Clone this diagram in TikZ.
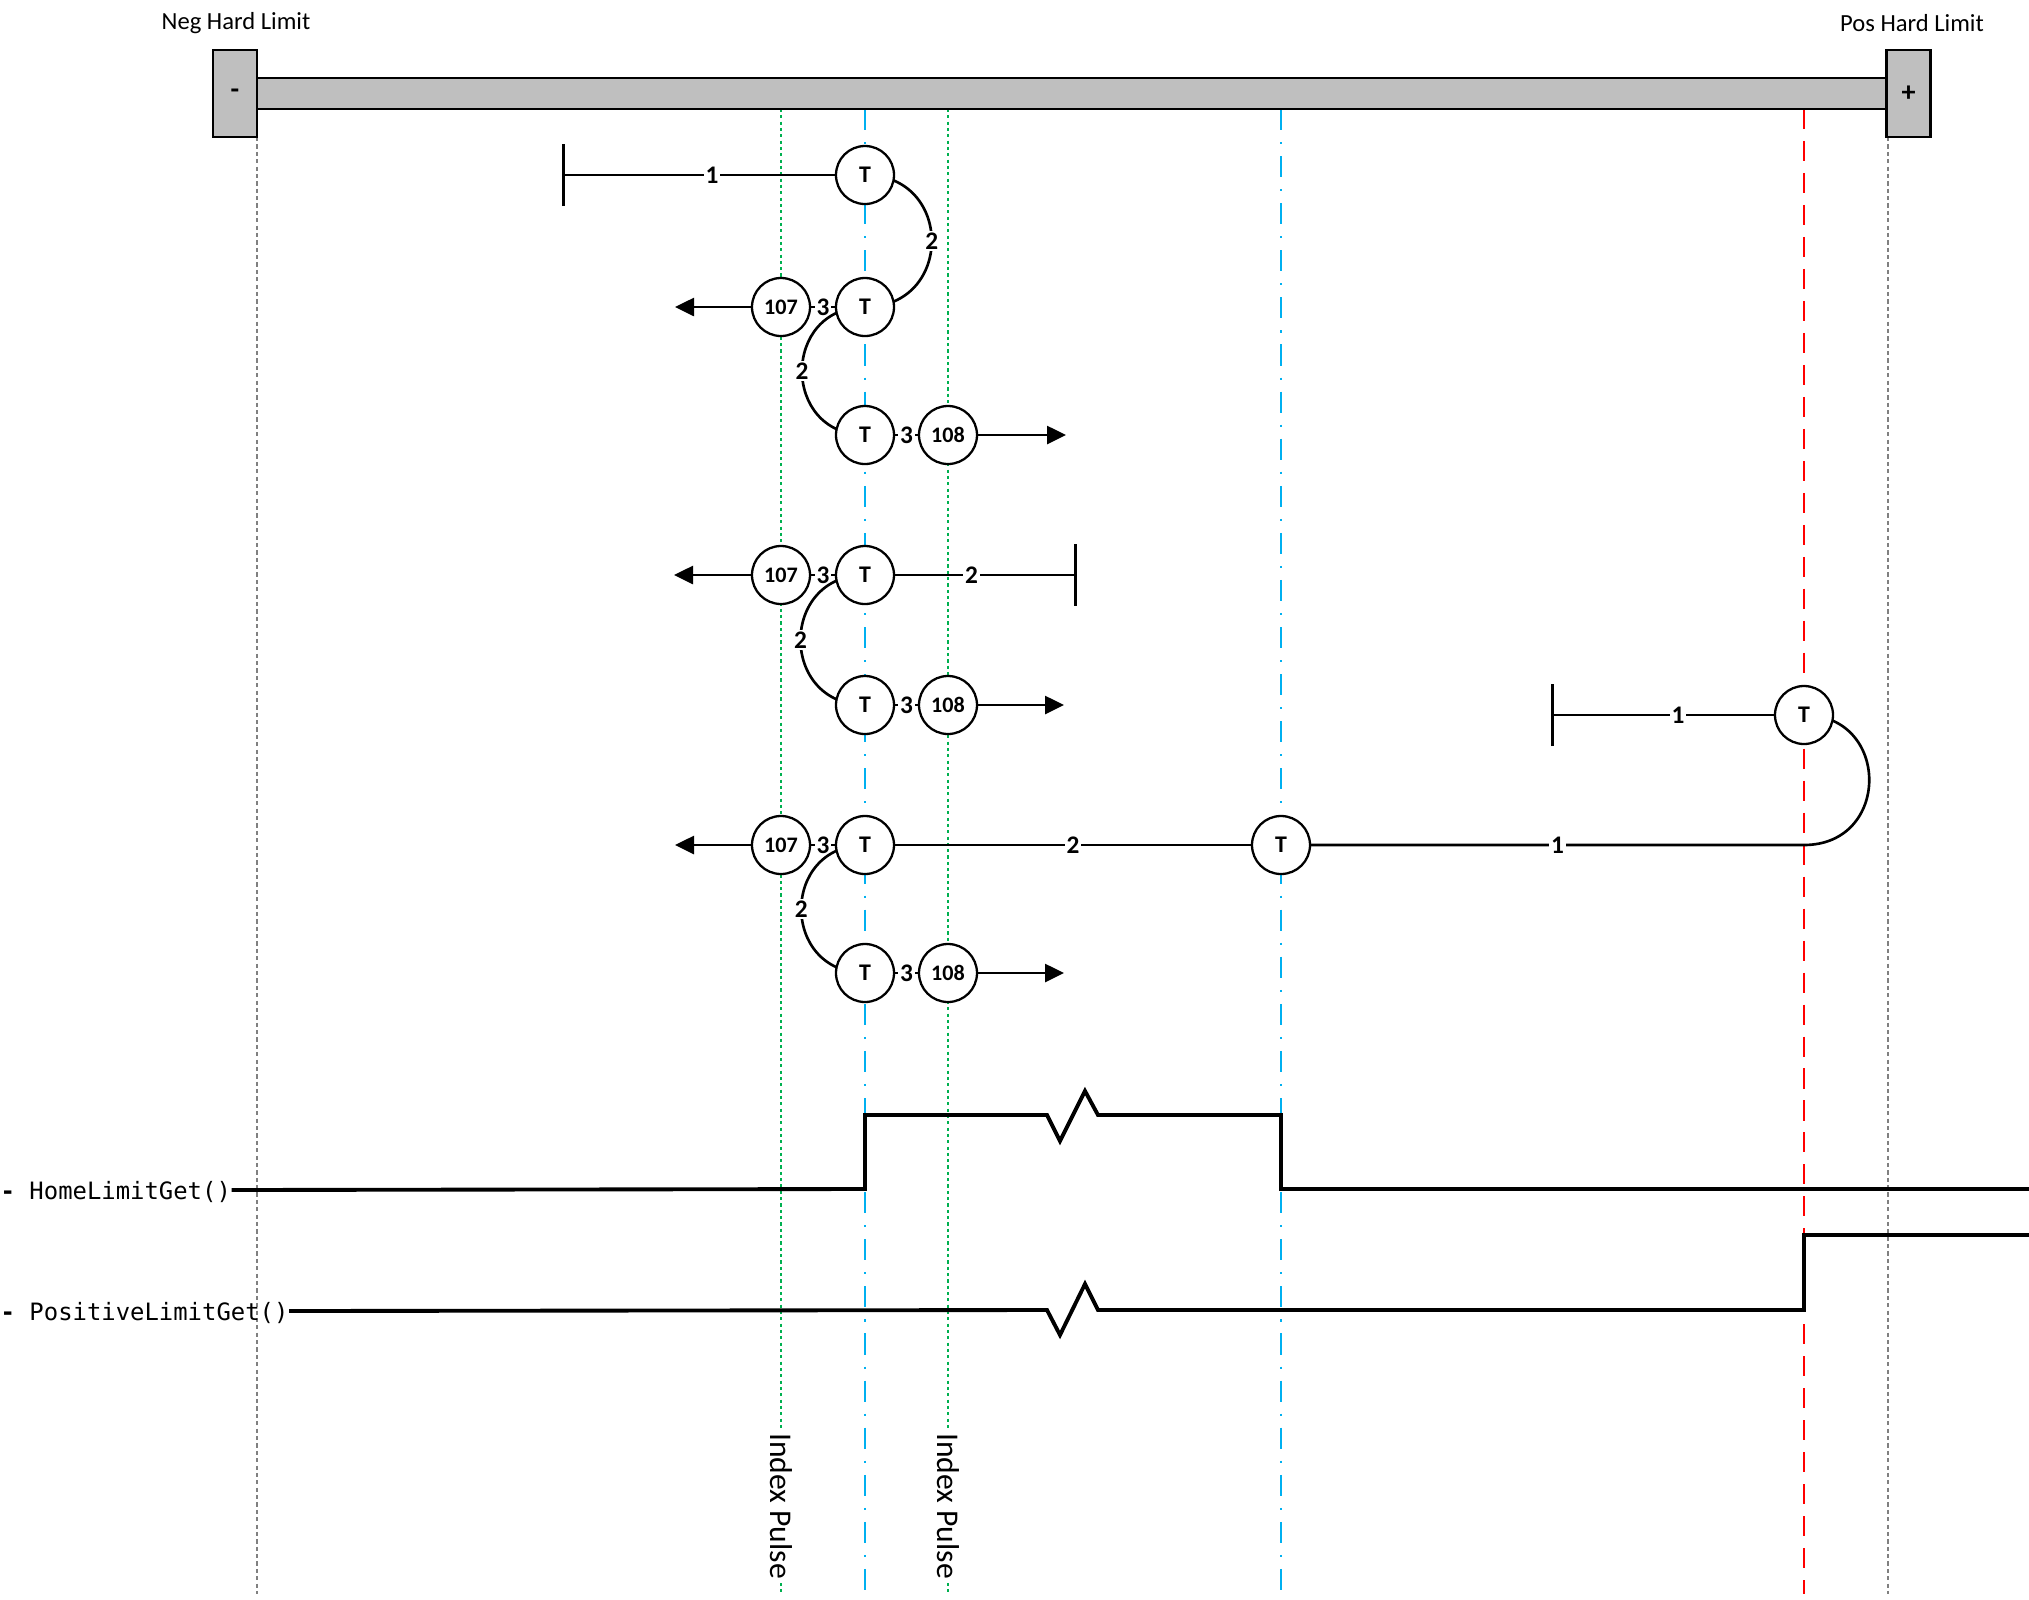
\documentclass[tikz,border=0pt]{standalone}
\usepackage{fontspec}
\setmainfont{Carlito}
\setmonofont{DejaVu Sans Mono}
\usetikzlibrary{arrows.meta,positioning,backgrounds}

\definecolor{railgray}{RGB}{191,191,191}
\definecolor{guidegray}{RGB}{128,128,128}
\definecolor{idxgreen}{RGB}{0,176,80}
\definecolor{homeblue}{RGB}{0,176,240}
\definecolor{limred}{RGB}{255,0,0}

\tikzset{
  tnode/.style={draw,circle,fill=white,line width=0.65pt,minimum size=5.8mm,inner sep=0pt,font=\fontsize{6.8}{8}\selectfont\bfseries},
  pnode/.style={tnode,font=\fontsize{6.3}{7}\selectfont\bfseries},
  lbl/.style={fill=white,inner sep=0.5pt,font=\fontsize{7.2}{8}\selectfont\bfseries},
  conn/.style={line width=0.75pt},
  outarrow/.style={conn,-{Triangle[length=1.9mm,width=1.8mm]}},
  stopline/.style={conn,{Bar[width=6.2mm]}-},
  signal/.style={line width=1.1pt},
  siglbl/.style={anchor=west,inner sep=0pt,text depth=0pt,font=\ttfamily\fontsize{6.8}{8}\selectfont},
  stopbox/.style={draw,fill=railgray,line width=0.7pt,minimum width=4.4mm,minimum height=8.7mm,inner sep=0pt,font=\fontsize{8}{9}\selectfont\bfseries},
  limlbl/.style={font=\fontsize{7}{8}\selectfont},
  pulselbl/.style={rotate=-90,fill=white,inner xsep=1pt,inner ysep=0pt,font=\fontsize{9}{10}\selectfont},
  guide/.style={guidegray,line width=0.5pt,dash pattern=on 1.2pt off 0.9pt},
  idxline/.style={idxgreen,line width=0.55pt,dash pattern=on 0.9pt off 0.9pt},
  homeline/.style={homeblue,line width=0.55pt,dash pattern=on 6pt off 3.4pt on 0.6pt off 3.4pt},
  limline/.style={limred,line width=0.75pt,dash pattern=on 5.7pt off 3.4pt}
}

\begin{document}
\begin{tikzpicture}[x=0.1mm,y=-0.1mm]
\useasboundingbox (0,0) rectangle (2029,1600);

\draw[fill=railgray,line width=0.7pt] (257,78) rectangle (1888,109);
\node[stopbox] (negstop) at (235,93.5) {-};
\node[stopbox] (posstop) at (1908.5,93.5) {+};
\node[limlbl] (neglbl) at (236,23) {Neg Hard Limit};
\node[limlbl] (poslbl) at (1912,23) {Pos Hard Limit};

\node[tnode] (t1) at (865,175) {T};
\node[pnode] (p107a) at (781,307) {107};
\node[tnode] (t2) at (865,307) {T};
\node[tnode] (t3) at (865,435) {T};
\node[pnode] (p108a) at (948,435) {108};
\node[pnode] (p107b) at (781,575) {107};
\node[tnode] (t4) at (865,575) {T};
\node[tnode] (t5) at (865,705) {T};
\node[pnode] (p108b) at (948,705) {108};
\node[pnode] (p107c) at (781,845) {107};
\node[tnode] (t6) at (865,845) {T};
\node[tnode] (t7) at (1281,845) {T};
\node[tnode] (t8) at (865,973) {T};
\node[pnode] (p108c) at (948,973) {108};
\node[tnode] (t9) at (1804,715) {T};

\coordinate (stopa) at (562,175);
\coordinate (stopb) at (1077,575);
\coordinate (stopc) at (1551,715);
\coordinate (turn) at (1804,845);
\coordinate (enda) at (675,307);
\coordinate (endb) at (1066,435);
\coordinate (endc) at (674,575);
\coordinate (endd) at (1064,705);
\coordinate (ende) at (675,845);
\coordinate (endf) at (1064,973);

\node[siglbl] (homesig) at (0,1190) {\textbf{-} HomeLimitGet()};
\node[siglbl] (possig) at (0,1311) {\textbf{-} PositiveLimitGet()};
\draw[signal] (homesig.east) -- (865,1189) |- (1047,1115) -- (1060,1141) -- (1085,1091) -- (1098,1115) -- (1281,1115) |- (2029,1189);
\draw[signal] (possig.east) -- (1047,1310) -- (1060,1335) -- (1085,1284) -- (1098,1310) -- (1804,1310) |- (2029,1235);

\begin{scope}[on background layer]
\draw[guide] (257,137) -- (257,1594);
\draw[guide] (1888,137) -- (1888,1594);
\draw[idxline] (781,109) -- (781,1594);
\draw[idxline] (948,109) -- (948,1594);
\draw[homeline] (865,109) -- (865,1594);
\draw[homeline] (1281,109) -- (1281,1594);
\draw[limline] (1804,109) -- (1804,1594);
\node[pulselbl] (pulsea) at (781,1506) {Index Pulse};
\node[pulselbl] (pulseb) at (948,1506) {Index Pulse};

\draw[stopline] (stopa) -- node[lbl,pos=0.55]{1} (t1);
\draw[conn] (t1.center) .. controls +(89,0) and +(89,0) .. node[lbl]{2} (t2.center);
\draw[conn] (p107a) -- node[lbl]{3} (t2);
\draw[outarrow] (p107a) -- (enda);
\draw[conn] (t2.center) .. controls +(-84,0) and +(-84,0) .. node[lbl]{2} (t3.center);
\draw[conn] (t3) -- node[lbl]{3} (p108a);
\draw[outarrow] (p108a) -- (endb);

\draw[stopline] (stopb) -- node[lbl,pos=0.58]{2} (t4);
\draw[conn] (p107b) -- node[lbl]{3} (t4);
\draw[outarrow] (p107b) -- (endc);
\draw[conn] (t4.center) .. controls +(-86,0) and +(-86,0) .. node[lbl]{2} (t5.center);
\draw[conn] (t5) -- node[lbl]{3} (p108b);
\draw[outarrow] (p108b) -- (endd);

\draw[stopline] (stopc) -- node[lbl,pos=0.57]{1} (t9);
\draw[conn] (t6) -- node[lbl]{2} (t7);
\draw[conn] (t7) -- node[lbl]{1} (turn) .. controls +(87,0) and +(87,0) .. (t9.center);
\draw[conn] (p107c) -- node[lbl]{3} (t6);
\draw[outarrow] (p107c) -- (ende);
\draw[conn] (t6.center) .. controls +(-85,0) and +(-85,0) .. node[lbl]{2} (t8.center);
\draw[conn] (t8) -- node[lbl]{3} (p108c);
\draw[outarrow] (p108c) -- (endf);
\end{scope}
\end{tikzpicture}
\end{document}
